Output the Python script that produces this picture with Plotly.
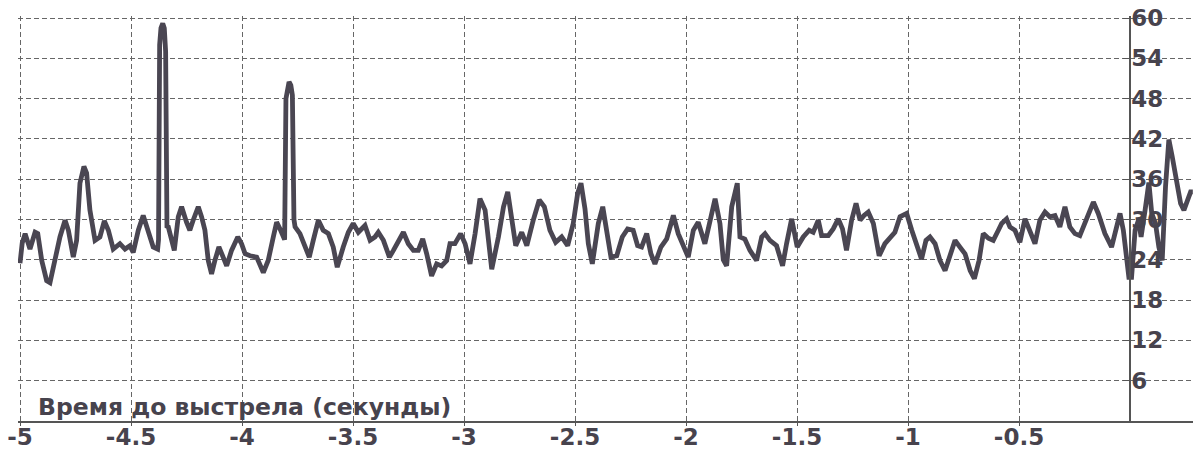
import plotly.graph_objects as go

# Time before the shot (seconds) and measured value
t = [
    -5.000, -4.990, -4.977, -4.955, -4.932, -4.920, -4.902, -4.880, -4.865, -4.842,
    -4.820, -4.797, -4.782, -4.760, -4.745, -4.730, -4.712, -4.700, -4.685, -4.662,
    -4.640, -4.620, -4.602, -4.580, -4.565, -4.550, -4.527, -4.505, -4.490, -4.467,
    -4.445, -4.422, -4.400, -4.380, -4.376, -4.371, -4.365, -4.357, -4.350, -4.344,
    -4.338, -4.332, -4.317, -4.305, -4.287, -4.272, -4.250, -4.235, -4.220, -4.197,
    -4.182, -4.167, -4.152, -4.137, -4.122, -4.104, -4.085, -4.069, -4.047, -4.019,
    -4.002, -3.986, -3.964, -3.934, -3.904, -3.882, -3.859, -3.844, -3.826, -3.808,
    -3.802, -3.795, -3.788, -3.780, -3.773, -3.766, -3.761, -3.739, -3.716, -3.697,
    -3.679, -3.656, -3.634, -3.611, -3.589, -3.571, -3.544, -3.521, -3.499, -3.476,
    -3.446, -3.423, -3.401, -3.386, -3.363, -3.336, -3.318, -3.296, -3.273, -3.251,
    -3.228, -3.206, -3.186, -3.168, -3.146, -3.123, -3.101, -3.078, -3.063, -3.041,
    -3.015, -2.995, -2.973, -2.950, -2.928, -2.905, -2.875, -2.845, -2.822, -2.803,
    -2.785, -2.767, -2.740, -2.717, -2.688, -2.661, -2.638, -2.613, -2.587, -2.560,
    -2.533, -2.508, -2.488, -2.473, -2.455, -2.440, -2.422, -2.395, -2.375, -2.357,
    -2.338, -2.312, -2.287, -2.263, -2.238, -2.218, -2.200, -2.177, -2.158, -2.140,
    -2.113, -2.087, -2.057, -2.035, -2.012, -1.990, -1.967, -1.945, -1.915, -1.892,
    -1.869, -1.847, -1.832, -1.817, -1.794, -1.769, -1.757, -1.735, -1.712, -1.682,
    -1.659, -1.644, -1.622, -1.592, -1.565, -1.547, -1.524, -1.499, -1.472, -1.445,
    -1.427, -1.404, -1.389, -1.359, -1.337, -1.314, -1.295, -1.277, -1.254, -1.234,
    -1.216, -1.198, -1.179, -1.156, -1.130, -1.104, -1.081, -1.059, -1.036, -1.006,
    -0.983, -0.961, -0.939, -0.919, -0.901, -0.878, -0.856, -0.833, -0.811, -0.788,
    -0.766, -0.743, -0.720, -0.701, -0.680, -0.661, -0.638, -0.616, -0.593, -0.578,
    -0.556, -0.541, -0.518, -0.496, -0.473, -0.451, -0.428, -0.406, -0.383, -0.361,
    -0.338, -0.316, -0.293, -0.271, -0.248, -0.226, -0.200, -0.165, -0.143, -0.113,
    -0.083, -0.060, -0.045, -0.030, -0.015, -0.005, 0.007, 0.023, 0.038, 0.050,
    0.068, 0.085, 0.098, 0.115, 0.130, 0.145, 0.160, 0.175, 0.190, 0.210,
    0.228, 0.243, 0.258, 0.273, 0.283,
]
values = [
    23.5, 26.5, 27.9, 25.6, 28.1, 27.9, 23.9, 20.9, 20.6, 23.9,
    27.4, 29.9, 28.4, 24.4, 26.9, 35.4, 37.9, 36.9, 31.4, 26.9,
    27.4, 29.8, 28.4, 25.6, 25.9, 26.4, 25.6, 26.1, 25.1, 28.4,
    30.6, 28.4, 25.9, 25.6, 27.0, 56.0, 58.5, 59.2, 58.5, 55.0,
    29.0, 28.9, 26.9, 25.4, 30.4, 31.9, 29.6, 28.4, 29.9, 31.9,
    30.4, 28.4, 23.9, 21.9, 23.9, 25.9, 24.4, 23.1, 25.4, 27.4,
    26.4, 24.9, 24.6, 24.4, 22.1, 23.9, 27.4, 29.6, 28.4, 27.0,
    48.0, 50.0, 50.5, 50.0, 48.5, 30.0, 28.9, 27.9, 25.9, 24.4,
    26.9, 29.9, 28.4, 27.9, 25.9, 22.9, 25.9, 28.1, 29.4, 28.1,
    29.1, 26.9, 27.4, 28.1, 26.9, 24.4, 25.4, 26.9, 28.1, 26.4,
    25.4, 25.4, 27.1, 24.9, 21.6, 23.4, 23.1, 23.9, 26.4, 26.4,
    27.9, 26.4, 23.4, 27.9, 33.1, 31.4, 22.6, 27.4, 31.9, 34.1,
    30.4, 26.1, 28.1, 26.1, 29.9, 32.9, 31.9, 28.4, 26.6, 27.4,
    26.1, 29.4, 33.9, 35.4, 31.6, 26.4, 23.4, 29.4, 31.9, 28.4,
    24.4, 24.6, 27.4, 28.6, 28.4, 26.1, 25.9, 27.9, 24.9, 23.4,
    25.9, 27.1, 30.6, 27.9, 25.9, 24.4, 28.4, 29.6, 26.4, 29.4,
    33.1, 29.4, 24.0, 23.1, 31.9, 35.4, 27.4, 27.1, 25.4, 23.9,
    27.4, 27.9, 26.9, 26.1, 23.1, 26.4, 30.1, 25.9, 27.4, 28.4,
    28.1, 29.9, 27.6, 27.6, 28.6, 30.1, 28.6, 25.4, 29.9, 32.4,
    29.9, 30.6, 31.1, 29.4, 24.6, 26.4, 27.4, 28.1, 30.4, 30.9,
    28.4, 26.4, 24.1, 26.9, 27.4, 26.4, 23.9, 22.4, 24.4, 26.9,
    25.9, 24.9, 22.4, 21.2, 23.9, 27.9, 27.2, 26.9, 28.4, 29.4,
    30.1, 28.9, 28.4, 26.6, 30.1, 28.4, 26.4, 29.9, 31.1, 30.4,
    30.6, 28.9, 31.9, 28.9, 27.9, 27.6, 29.9, 32.6, 30.9, 27.9,
    25.9, 29.4, 30.9, 28.4, 24.1, 21.4, 21.4, 28.4, 29.9, 27.4,
    31.4, 35.5, 30.9, 29.4, 25.9, 23.9, 34.9, 41.9, 39.4, 35.4,
    32.4, 31.4, 32.9, 34.1, 34.1,
]

x_ticks = [-5, -4.5, -4, -3.5, -3, -2.5, -2, -1.5, -1, -0.5]
x_tick_labels = ["-5", "-4.5", "-4", "-3.5", "-3", "-2.5", "-2", "-1.5", "-1", "-0.5"]
y_ticks = [6, 12, 18, 24, 30, 36, 42, 48, 54, 60]
y_tick_labels = ["6", "12", "18", "24", "30", "36", "42", "48", "54", "60"]
axis_title = "Время до выстрела (секунды)"

ink = "#47434d"
grid = "#666666"
tick_font = dict(family="DejaVu Sans", size=23, color=ink, weight="bold")

fig = go.Figure(
    go.Scatter(
        x=t, y=values, mode="lines",
        line=dict(color="#4a4652", width=4.8),
        hoverinfo="skip", showlegend=False,
    )
)

x_min, x_max = -5.009, 0.2928
y_min, y_max = 0, 60.3
fig.update_layout(
    width=1193, height=444,
    margin=dict(l=10, r=6, t=8, b=31, pad=0),
    paper_bgcolor="white", plot_bgcolor="white",
    showlegend=False,
    xaxis=dict(
        range=[x_min, x_max],
        tickvals=x_ticks, ticktext=x_tick_labels,
        showgrid=True, gridcolor=grid, gridwidth=1, griddash="5px,3px",
        zeroline=True, zerolinecolor="#555", zerolinewidth=1.5,
        showline=True, linecolor="#555", linewidth=1.5,
        ticks="outside", ticklen=3, tickcolor="#555",
        ticklabelstandoff=-8, ticklabeloverflow="allow",
        tickfont=tick_font, automargin=False, fixedrange=True,
    ),
    yaxis=dict(
        range=[y_min, y_max],
        tickvals=y_ticks, ticktext=y_tick_labels,
        anchor="free", position=(0 - x_min) / (x_max - x_min), side="right",
        showgrid=True, gridcolor=grid, gridwidth=1, griddash="5px,3px",
        zeroline=False,
        showline=True, linecolor="#555", linewidth=1.5,
        ticks="inside", ticklen=6, tickcolor="#555",
        ticklabelstandoff=-4, ticklabeloverflow="allow",
        tickfont=tick_font, automargin=False, fixedrange=True,
    ),
    annotations=[
        dict(
            text=axis_title, x=-4.928, y=2.1, xref="x", yref="y",
            xanchor="left", yanchor="middle", showarrow=False,
            font=dict(family="DejaVu Sans", size=23.5, color=ink, weight="bold"),
        )
    ],
)

fig.write_html("out.html")
